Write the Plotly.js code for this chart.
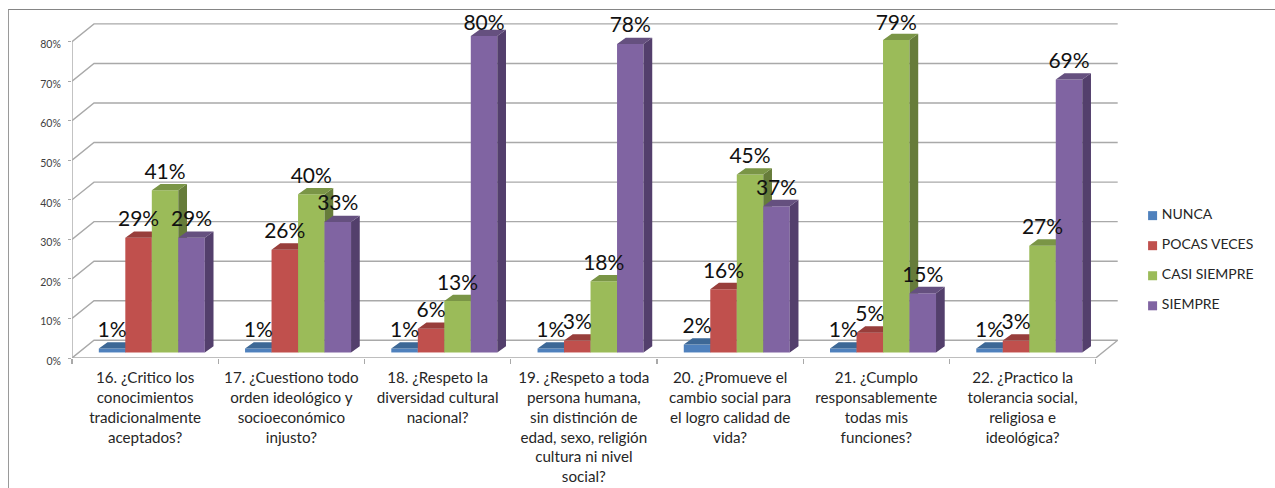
<!DOCTYPE html>
<html>
<head>
<meta charset="utf-8">
<script src="https://cdn.plot.ly/plotly-3.0.1.min.js"></script>
<style>
  html, body { margin: 0; padding: 0; background: #fff; overflow: hidden; }
  #frame { position: absolute; left: 8px; top: 9px; width: 1267px; height: 479px; border-top: 1px solid #858585; border-left: 1px solid #9a9a9a; box-sizing: border-box; }
  #chart { position: absolute; left: 0; top: 0; width: 1275px; height: 488px; }
</style>
</head>
<body>
<div id="frame"></div>
<div id="chart"></div>
<script>
const questions = [
  "16. ¿Critico los<br>conocimientos<br>tradicionalmente<br>aceptados?",
  "17. ¿Cuestiono todo<br>orden ideológico y<br>socioeconómico<br>injusto?",
  "18. ¿Respeto la<br>diversidad cultural<br>nacional?",
  "19. ¿Respeto a toda<br>persona humana,<br>sin distinción de<br>edad, sexo, religión<br>cultura ni nivel<br>social?",
  "20. ¿Promueve el<br>cambio social para<br>el logro calidad de<br>vida?",
  "21. ¿Cumplo<br>responsablemente<br>todas mis<br>funciones?",
  "22. ¿Practico la<br>tolerancia social,<br>religiosa e<br>ideológica?"
];
const nunca       = [1, 1, 1, 1, 2, 1, 1];
const pocasVeces  = [29, 26, 6, 3, 16, 5, 3];
const casiSiempre = [41, 40, 13, 18, 45, 79, 27];
const siempre     = [29, 33, 80, 78, 37, 15, 69];
const seriesNames = ["NUNCA", "POCAS VECES", "CASI SIEMPRE", "SIEMPRE"];
const seriesValues = [nunca, pocasVeces, casiSiempre, siempre];
const frontColors = ["#4f81bd", "#c0504d", "#9bbb59", "#8064a2"];
const topColors   = ["#3d6896", "#983e3b", "#7a9546", "#65507f"];
const sideColors  = ["#33567d", "#7f3331", "#667c3a", "#533f6c"];
const gridLevels  = [0, 10, 20, 30, 40, 50, 60, 70, 80];

// Axis windows: one category spans 146.24px, one percent 3.95px
const xMax = 8.226, yMax = 88;

// Projection of the pseudo-3D box, expressed in axis units
const wallDX = 0.1504, wallDY = 4.48;   // depth of the back wall
const barDX = 0.0595, barDY = 1.6;      // depth of a single bar
const floorY = 1.4;                     // bars stand slightly behind the front edge
const barW = 0.1812, firstBar = 0.1833; // bar width and left gap in a category
const labelLift = 4.25;                 // label centre above the bar's front top edge
const labelCeil = 84.4;                 // labels stop rising near the top of the chart
const nCat = questions.length;

// Key placed to the right of the box, in axis units
const keyX = 7.389, keyTextX = 7.452, keyTopY = 36.0, keyStepY = 7.6;

const traces = [];

// Back wall grid, floor and left wall slants, plus the two front axis lines
const gx = [], gy = [];
gridLevels.forEach(v => {
  gx.push(0, wallDX, nCat + wallDX, null);
  gy.push(v, v + wallDY, v + wallDY, null);
});
gx.push(nCat, nCat + wallDX, null, 0, nCat, null, 0, 0);
gy.push(0, wallDY, null, 0, 0, null, 0, 80);
traces.push({
  type: "scatter", mode: "lines", x: gx, y: gy, xaxis: "x", yaxis: "y",
  line: { color: "#a9a9a9", width: 1.4 }, hoverinfo: "skip", showlegend: false
});

// One overlaid subplot per series, so each series paints over the one before it
seriesValues.forEach((vals, s) => {
  const ax = "x" + (s + 2), ay = "y" + (s + 2);
  const left = i => i + firstBar + s * barW;
  const centers = vals.map((_, i) => i + 0.5);
  traces.push({
    type: "bar", name: seriesNames[s], x: centers, y: vals,
    base: vals.map(() => floorY),
    offset: vals.map((_, i) => left(i) - centers[i]),
    width: vals.map(() => barW),
    marker: { color: frontColors[s], line: { width: 0 } },
    xaxis: ax, yaxis: ay, showlegend: false, hoverinfo: "skip"
  });
  const sx = [], sy = [], tx = [], ty = [];
  vals.forEach((v, i) => {
    const l = left(i), r = l + barW, h = floorY + v;
    sx.push(r, r + barDX, r + barDX, r, r, null);
    sy.push(floorY, floorY + barDY, h + barDY, h, floorY, null);
    tx.push(l, l + barDX, r + barDX, r, l, null);
    ty.push(h, h + barDY, h + barDY, h, h, null);
  });
  [[sx, sy, sideColors[s]], [tx, ty, topColors[s]]].forEach(([px, py, c]) => {
    traces.push({
      type: "scatter", mode: "lines", x: px, y: py, fill: "toself", fillcolor: c,
      line: { width: 0, color: c }, xaxis: ax, yaxis: ay,
      showlegend: false, hoverinfo: "skip"
    });
  });
});

// Value labels sit above every bar, in the topmost subplot
const lx = [], ly = [], lt = [];
seriesValues.forEach((vals, s) => vals.forEach((v, i) => {
  lx.push(i + firstBar + s * barW + barW / 2);
  ly.push(Math.min(floorY + v + labelLift, labelCeil));
  lt.push(v + "%");
}));
traces.push({
  type: "scatter", mode: "text", x: lx, y: ly, text: lt, textposition: "middle center",
  textfont: { family: "Lato, sans-serif", size: 21, color: "#111111" },
  xaxis: "x6", yaxis: "y6", showlegend: false, hoverinfo: "skip"
});

// Series key: coloured squares with their names beside them
const keyY = seriesNames.map((_, s) => keyTopY - s * keyStepY);
traces.push({
  type: "scatter", mode: "markers",
  x: seriesNames.map(() => keyX), y: keyY,
  marker: { symbol: "square", size: 9, color: frontColors, line: { width: 0 } },
  xaxis: "x6", yaxis: "y6", showlegend: false, hoverinfo: "skip"
});
traces.push({
  type: "scatter", mode: "text",
  x: seriesNames.map(() => keyTextX), y: keyY,
  text: seriesNames, textposition: "middle right",
  textfont: { family: "Lato, sans-serif", size: 14, color: "#262626" },
  xaxis: "x6", yaxis: "y6", showlegend: false, hoverinfo: "skip"
});

const layout = {
  width: 1275, height: 488,
  margin: { l: 72, r: 0, t: 10.4, b: 130, pad: 0 },
  paper_bgcolor: "rgba(0,0,0,0)", plot_bgcolor: "rgba(0,0,0,0)",
  barmode: "overlay", showlegend: false,
  xaxis: {
    range: [0, xMax], showgrid: false, zeroline: false, showline: false,
    tickmode: "array", tickvals: questions.map((_, i) => i + 0.5), ticktext: questions,
    ticks: "outside", ticklen: 6, tickcolor: "rgba(0,0,0,0)", tickangle: 0,
    tickfont: { family: "Lato, sans-serif", size: 15.2, color: "#262626" },
    minor: {
      ticks: "outside", ticklen: 5, tickcolor: "#a9a9a9", tickwidth: 1.2,
      tickmode: "array", tickvals: Array.from({ length: nCat + 1 }, (_, i) => i), showgrid: false
    }
  },
  yaxis: {
    range: [0, yMax], showgrid: false, zeroline: false, showline: false,
    tickmode: "array", tickvals: gridLevels, ticktext: gridLevels.map(v => v + "%"),
    ticks: "outside", ticklen: 3, tickcolor: "#a9a9a9", ticklabelstandoff: 5, ticklabelshift: 3,
    tickfont: { family: "Lato, sans-serif", size: 10.5, color: "#404040" }
  }
};
for (let k = 2; k <= 6; k++) {
  layout["xaxis" + k] = { overlaying: "x", range: [0, xMax], visible: false, fixedrange: true };
  layout["yaxis" + k] = { overlaying: "y", range: [0, yMax], visible: false, fixedrange: true };
}

Plotly.newPlot("chart", traces, layout, { displayModeBar: false, staticPlot: true });
</script>
</body>
</html>
